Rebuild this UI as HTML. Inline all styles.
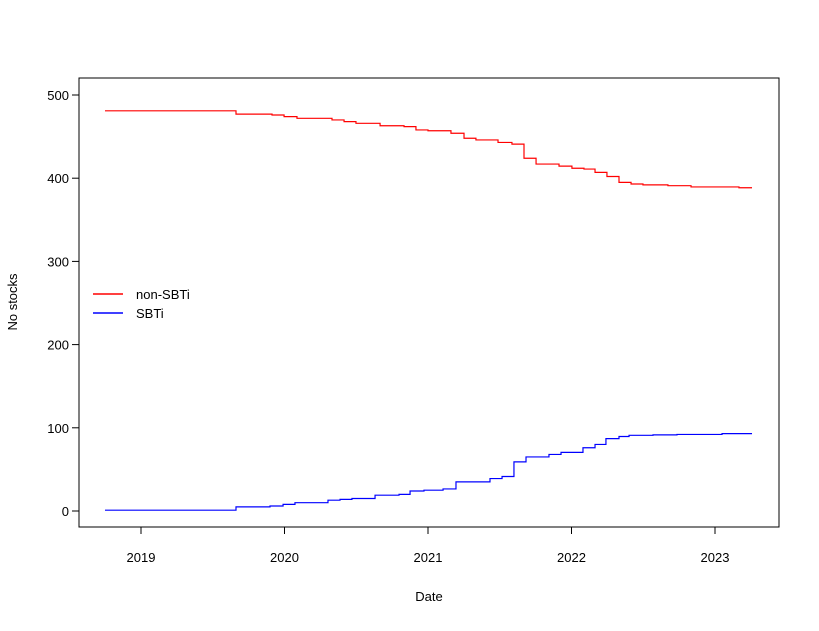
<!DOCTYPE html>
<html><head><meta charset="utf-8"><style>
body{margin:0;background:#fff}
svg{font-family:"Liberation Sans",Arial,sans-serif;font-size:13px}
</style></head><body>
<svg id="chart" width="819" height="626">
<rect x="79" y="78" width="700" height="449" fill="none" stroke="#000"/>
<g id="axes"></g><g id="series"></g>
<text x="429" y="601" text-anchor="middle">Date</text>
<text transform="translate(17,302) rotate(-90)" text-anchor="middle">No stocks</text>
<g>
<line x1="93" x2="123" y1="294" y2="294" stroke="red" stroke-width="1.5"/>
<text x="136" y="299">non-SBTi</text>
<line x1="93" x2="123" y1="313" y2="313" stroke="blue" stroke-width="1.5"/>
<text x="136" y="318">SBTi</text>
</g>
</svg>
<script>
const xTicks=[2019,2020,2021,2022,2023];
const yTicks=[0,100,200,300,400,500];
const startDate=2018.749, endDate=2023.258;
const nonSbtiDates=[2018.749,2019.662,2019.913,2019.997,2020.087,2020.331,2020.415,2020.498,2020.666,2020.833,2020.916,2021.0,2021.160,2021.251,2021.334,2021.488,2021.585,2021.669,2021.753,2021.913,2022.003,2022.087,2022.164,2022.247,2022.331,2022.415,2022.498,2022.672,2022.833,2023.167];
const nonSbtiValues=[481,477,476,474,472,470,468,466,463,462,458,457,454,448,446,443,441,424,417,414.5,412,411,407,402,395,393,392,391,389.5,388.5];
const sbtiDates=[2018.749,2019.662,2019.899,2019.990,2020.073,2020.303,2020.387,2020.470,2020.631,2020.798,2020.875,2020.972,2021.105,2021.195,2021.432,2021.516,2021.599,2021.683,2021.843,2021.927,2022.080,2022.164,2022.240,2022.331,2022.401,2022.568,2022.735,2023.049];
const sbtiValues=[1,5,6,8,10,13,14,15,19,20,24,25,26.5,35,39,41.5,59,65,68,70.5,76,80,87,89.5,91,91.5,92,93];
const X=d=>141+(d-2019)*143.5;
const Y=v=>511-v*0.832;
const NS="http://www.w3.org/2000/svg";
const axes=document.getElementById('axes'), series=document.getElementById('series');
function mk(t,a,p){const e=document.createElementNS(NS,t);for(const k in a)e.setAttribute(k,a[k]);p.appendChild(e);return e;}
const xa=mk('line',{x1:X(xTicks[0]),x2:X(xTicks[xTicks.length-1]),y1:527,y2:527,stroke:'#000'},axes);


xTicks.forEach(t=>{
 const l=mk('line',{x1:X(t),x2:X(t),y1:527,y2:534,stroke:'#000'},axes);
 
 
 const tx=mk('text',{x:X(t),y:562,'text-anchor':'middle'},axes);tx.textContent=t;
 
 
});
const ya=mk('line',{x1:79,x2:79,y1:Y(yTicks[0]),y2:Y(yTicks[yTicks.length-1]),stroke:'#000'},axes);


yTicks.forEach(t=>{
 const l=mk('line',{x1:72,x2:79,y1:Y(t),y2:Y(t),stroke:'#000'},axes);
 
 
 const tx=mk('text',{x:69,y:Y(t)+5,'text-anchor':'end'},axes);tx.textContent=t;
 
 
});
function step(dates,vals,color,name){
 let d='M'+X(dates[0])+','+Y(vals[0]);
 for(let i=1;i<dates.length;i++){d+=' H'+X(dates[i])+' V'+Y(vals[i]);}
 d+=' H'+X(endDate);
 const p=mk('path',{d:d,fill:'none',stroke:color,'stroke-width':1.2},series);
 
 
}
step(nonSbtiDates,nonSbtiValues,'red','non-sbti-line');
step(sbtiDates,sbtiValues,'blue','sbti-line');
</script>
</body></html>
